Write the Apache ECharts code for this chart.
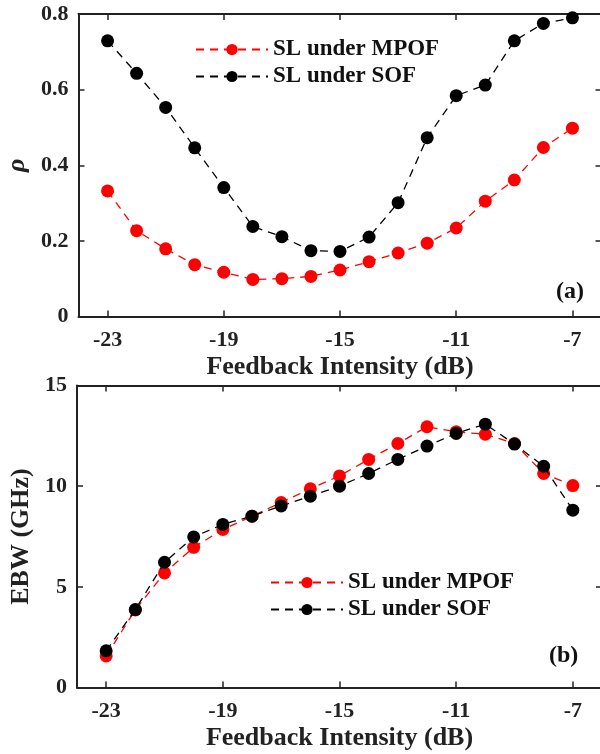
<!DOCTYPE html>
<html>
<head>
<meta charset="utf-8">
<script src="https://cdn.jsdelivr.net/npm/echarts@6/dist/echarts.min.js"></script>
<style>
  html, body { margin: 0; padding: 0; background: #fff; }
  #chart { width: 600px; height: 754px; }
</style>
</head>
<body>
<div id="chart"></div>
<script>
// Feedback intensity sweep (dB)
const feedback = [-23, -22, -21, -20, -19, -18, -17, -16, -15, -14, -13, -12, -11, -10, -9, -8, -7];
const xTicks = [-23, -19, -15, -11, -7];

// (a) correlation coefficient rho
const rhoMPOF = [0.332, 0.227, 0.179, 0.137, 0.117, 0.098, 0.100, 0.106, 0.123, 0.145, 0.168, 0.194, 0.234, 0.305, 0.361, 0.447, 0.498];
const rhoSOF  = [0.729, 0.643, 0.553, 0.446, 0.341, 0.238, 0.211, 0.174, 0.172, 0.210, 0.301, 0.473, 0.584, 0.612, 0.729, 0.775, 0.790];

// (b) effective bandwidth (GHz)
const ebwMPOF = [1.57, 3.85, 5.69, 6.96, 7.85, 8.51, 9.19, 9.87, 10.51, 11.33, 12.12, 12.95, 12.70, 12.58, 12.12, 10.63, 10.03];
const ebwSOF  = [1.82, 3.87, 6.22, 7.48, 8.10, 8.51, 9.02, 9.50, 10.00, 10.63, 11.33, 11.99, 12.62, 13.08, 12.09, 10.99, 8.81];

const seriesNames = ['SL under MPOF', 'SL under SOF'];
const FONT = '"Liberation Serif", "Times New Roman", serif';
const AXIS_COLOR = '#222';
const TEXT_COLOR = '#222';

const pairs = (ys) => feedback.map((x, i) => [x, ys[i]]);

function xAxes(gridIndex) {
  const common = {
    type: 'value', gridIndex, min: -24, max: -6, interval: 1,
    splitLine: { show: false },
    axisLine: { show: true, onZero: false, lineStyle: { color: AXIS_COLOR, width: 2 } },
    axisTick: { show: true, inside: true, length: 6, lineStyle: { color: AXIS_COLOR, width: 1.5 },
                customValues: xTicks },
    axisLabel: { show: false }
  };
  return [
    Object.assign({}, common, {
      position: 'bottom',
      axisLabel: {
        show: true, customValues: xTicks, margin: 13,
        fontFamily: FONT, fontWeight: 'bold', fontSize: 22, color: TEXT_COLOR
      },
      name: 'Feedback Intensity (dB)', nameLocation: 'middle', nameGap: 38,
      nameTextStyle: { fontFamily: FONT, fontWeight: 'bold', fontSize: 26, color: TEXT_COLOR }
    }),
    Object.assign({}, common, { position: 'top' })
  ];
}

function yAxes(gridIndex, max, interval, name, nameStyle, nameGap) {
  const common = {
    type: 'value', gridIndex, min: 0, max, interval,
    splitLine: { show: false },
    axisLine: { show: true, onZero: false, lineStyle: { color: AXIS_COLOR, width: 2 } },
    axisTick: { show: true, inside: true, length: 6, lineStyle: { color: AXIS_COLOR, width: 1.5 } },
    axisLabel: { show: false }
  };
  return [
    Object.assign({}, common, {
      position: 'left',
      axisLabel: { show: true, margin: 10, fontFamily: FONT, fontWeight: 'bold', fontSize: 22, color: TEXT_COLOR },
      name, nameLocation: 'middle', nameGap,
      nameTextStyle: Object.assign({ fontFamily: FONT, color: TEXT_COLOR }, nameStyle)
    }),
    Object.assign({}, common, { position: 'right' })
  ];
}

function lineSeries(name, color, data, xIdx, yIdx) {
  return {
    type: 'line', name, data, xAxisIndex: xIdx, yAxisIndex: yIdx,
    symbol: 'circle', symbolSize: 13,
    itemStyle: { color },
    lineStyle: { color, width: 1.3, type: [8, 6] },
    z: color === '#000000' ? 3 : 2,
    animation: false
  };
}

function legendAt(left, top) {
  return {
    data: seriesNames, orient: 'vertical', left, top,
    itemWidth: 72, itemHeight: 14, itemGap: 4,
    textStyle: { fontFamily: FONT, fontWeight: 'bold', fontSize: 23, color: '#111' }
  };
}

const chart = echarts.init(document.getElementById('chart'), null, { renderer: 'canvas' });
chart.setOption({
  backgroundColor: '#fff',
  animation: false,
  grid: [
    { left: 78.5, top: 14, width: 523, height: 302.5, containLabel: false, outerBoundsMode: 'none' },
    { left: 77, top: 385.5, width: 525, height: 302, containLabel: false, outerBoundsMode: 'none' }
  ],
  xAxis: [...xAxes(0), ...xAxes(1)],
  yAxis: [
    ...yAxes(0, 0.8, 0.2, 'ρ', { fontStyle: 'italic', fontWeight: 'bold', fontSize: 26 }, 46),
    ...yAxes(1, 15, 5, 'EBW (GHz)', { fontWeight: 'bold', fontSize: 26 }, 42)
  ],
  legend: [legendAt(190, 33), legendAt(265, 566)],
  series: [
    lineSeries(seriesNames[0], '#ff0000', pairs(rhoMPOF), 0, 0),
    lineSeries(seriesNames[1], '#000000', pairs(rhoSOF), 0, 0),
    lineSeries(seriesNames[0], '#ff0000', pairs(ebwMPOF), 2, 2),
    lineSeries(seriesNames[1], '#000000', pairs(ebwSOF), 2, 2)
  ],
  graphic: [
    { type: 'text', left: 556, top: 280,
      style: { text: '(a)', font: 'bold 24px ' + FONT, fill: '#111' } },
    { type: 'text', left: 549, top: 644,
      style: { text: '(b)', font: 'bold 24px ' + FONT, fill: '#111' } }
  ]
});
</script>
</body>
</html>
